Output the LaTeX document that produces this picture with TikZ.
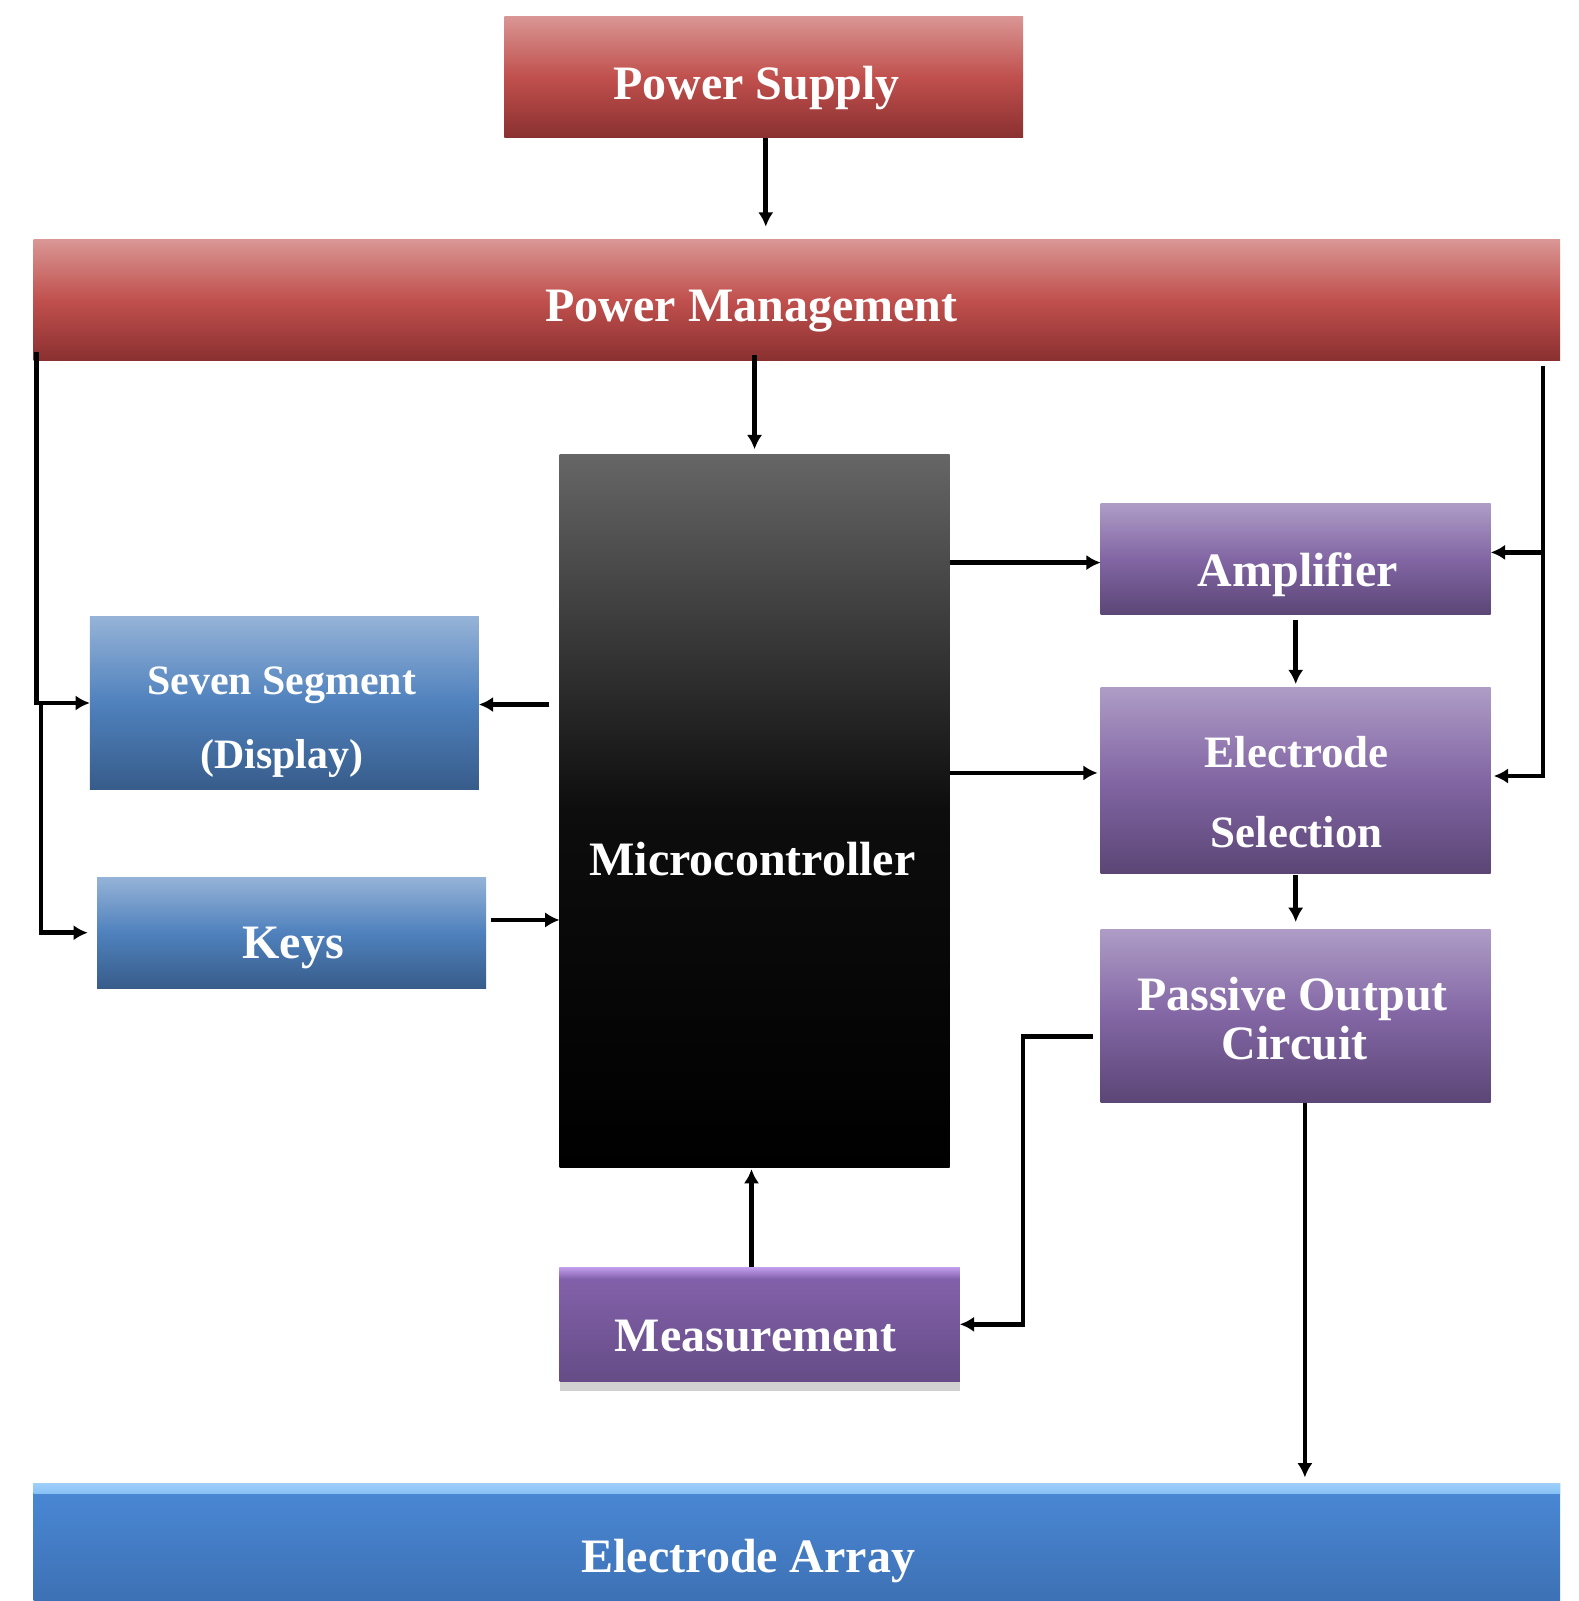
\documentclass[tikz,border=0pt]{standalone}
\usepackage{fontspec}
\setmainfont{Liberation Serif}
\usetikzlibrary{arrows.meta,shadows,calc}
\definecolor{redT}{HTML}{D99694}
\definecolor{redM}{HTML}{C0504D}
\definecolor{redB}{HTML}{8A3030}
\definecolor{purT}{HTML}{AE9CC6}
\definecolor{purM}{HTML}{8266A4}
\definecolor{purB}{HTML}{5B4676}
\definecolor{bluT}{HTML}{95B3D7}
\definecolor{bluM}{HTML}{4F81BD}
\definecolor{bluB}{HTML}{375C8A}
\definecolor{micT}{HTML}{666666}
\definecolor{micM}{HTML}{0D0D0D}
\definecolor{meaT}{HTML}{8663AE}
\definecolor{meaB}{HTML}{654C86}
\definecolor{meaS}{HTML}{C29EEE}
\definecolor{arrT}{HTML}{4A89D6}
\definecolor{arrB}{HTML}{3A6AAB}
\definecolor{arrS}{HTML}{86C2F7}
\begin{document}
\begin{tikzpicture}[x=1pt,y=-1pt,
  box/.style={rectangle, draw=none, inner sep=0pt, outer sep=0pt},
  redbox/.style={box, top color=redT, bottom color=redB, middle color=redM},
  purbox/.style={box, top color=purT, bottom color=purB, middle color=purM},
  blubox/.style={box, top color=bluT, bottom color=bluB, middle color=bluM},
  micbox/.style={box, top color=micT, bottom color=black, middle color=micM},
  meabox/.style={box, top color=meaT, bottom color=meaB,
     drop shadow={shadow xshift=0pt, shadow yshift=-9pt, fill=black, opacity=0.18}},
  arrbox/.style={box, top color=arrT, bottom color=arrB},
  lbl/.style={text=white, anchor=base, inner sep=0pt, font=\bfseries\fontsize{47}{56}\selectfont},
  lbls/.style={lbl, font=\bfseries\fontsize{41}{50}\selectfont},
  lblm/.style={lbl, font=\bfseries\fontsize{44}{52}\selectfont},
  arr/.style={line width=4.5pt, -{Latex[length=14pt,width=15pt]}}]
\clip (0,0) rectangle (1546,1568);
\fill[white] (0,0) rectangle (1546,1568);

% boxes
\node[redbox, minimum width=508pt, minimum height=119pt] (ps) at (748,75.5) {};
\node[redbox, minimum width=1495pt, minimum height=118pt] (pm) at (780.5,294) {};
\node[micbox, minimum width=382pt, minimum height=698pt] (mc) at (739,794) {};
\node[purbox, minimum width=382pt, minimum height=109pt] (amp) at (1269,547.5) {};
\node[purbox, minimum width=382pt, minimum height=182pt] (es) at (1269,764) {};
\node[purbox, minimum width=382pt, minimum height=170pt] (po) at (1269,995) {};
\node[blubox, minimum width=381pt, minimum height=169pt] (ss) at (278.5,688.5) {};
\node[blubox, minimum width=381pt, minimum height=109pt] (keys) at (285.5,913.5) {};
\node[meabox, minimum width=392pt, minimum height=112pt] (me) at (744,1297) {};
\node[arrbox, minimum width=1495pt, minimum height=147pt] (ea) at (780.5,1526.5) {};
\fill[top color=meaS, bottom color=meaT] (me.north west) rectangle ([yshift=-11pt]me.north east);
\fill[top color=arrS!80!white, bottom color=arrS] (ea.north west) rectangle ([yshift=-10pt]ea.north east);

% labels
\node[lbl] (psT) at (741,97) {Power Supply};
\node[lbl] (pmT) at (736,315) {Power Management};
\node[lbl] (mcT) at (737,857) {Microcontroller};
\node[lbl] (ampT) at (1271,574) {Amplifier};
\node[lbls] (ssT1) at (276,680) {Seven Segment};
\node[lbls] (ssT2) at (276,753) {(Display)};
\node[lbl] (keysT) at (287,939) {Keys};
\node[lblm] (esT1) at (1270,752) {Electrode};
\node[lblm] (esT2) at (1270,830) {Selection};
\node[lbl] (poT1) at (1266,990) {Passive Output};
\node[lbl] (poT2) at (1268,1038) {Circuit};
\node[lbl] (meT) at (740,1324) {Measurement};
\node[lbl] (eaT) at (733,1540) {Electrode Array};

% connectors
\draw[arr, shorten >=13pt] ([xshift=2pt]ps.south) -- ([xshift=2pt]ps.south |- pm.north);
\draw[arr, shorten >=5pt] ([yshift=5pt]pm.south -| mc.north) -- (mc.north);

\coordinate (ltop) at ([xshift=3pt,yshift=8pt]pm.south west);
\coordinate (lmid) at (ltop |- ss.west);
\draw[arr] (ltop) |- (ss.west);
\draw[arr] ([xshift=4pt]lmid) |- ([xshift=-9pt]keys.west);

\draw[arr] ([xshift=-10pt,yshift=-1.5pt]mc.west |- ss.east) -- ([yshift=-1.5pt]ss.east);
\draw[arr] ([xshift=5pt,yshift=12.5pt]keys.east) -- ([yshift=12.5pt]keys.east -| mc.west);

\draw[arr] ([yshift=-3.5pt]amp.west -| mc.east) -- ([yshift=-3.5pt]amp.west);
\draw[arr, shorten >=3pt] ([yshift=7pt]es.west -| mc.east) -- ([yshift=7pt]es.west);

\coordinate (rtop) at ([xshift=-17pt,yshift=-5pt]pm.south east);
\draw[arr] (rtop) |- ([yshift=4pt,xshift=3pt]es.east);
\draw[arr] ([yshift=6.5pt]rtop |- amp.east) -- ([yshift=6.5pt]amp.east);

\draw[arr, shorten <=5pt, shorten >=3pt] (amp.south) -- (es.north);
\draw[arr, shorten <=2pt, shorten >=7pt] (es.south) -- (po.north);

\draw[arr] ([xshift=-8pt,yshift=-20pt]po.west) -- ++(-68,0) |- (me.east);
\draw[arr, shorten >=2pt] (me.north -| 736,0) -- (mc.south -| 736,0);
\draw[arr, shorten >=6pt] ([xshift=9pt]po.south) -- ([xshift=9pt]po.south |- ea.north);
\end{tikzpicture}
\end{document}
